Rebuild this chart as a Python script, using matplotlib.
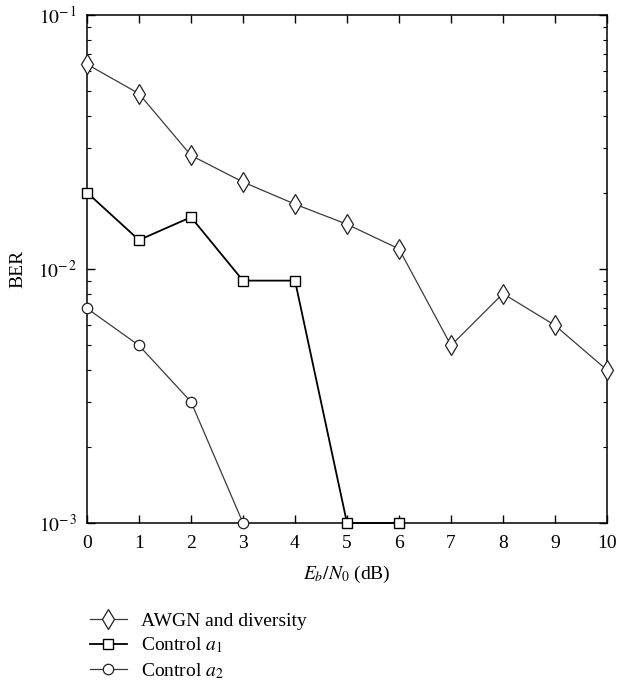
import matplotlib
matplotlib.use("Agg")
import matplotlib.pyplot as plt
from matplotlib.ticker import LogLocator, NullFormatter, FixedFormatter

plt.rcParams['font.family'] = ['Liberation Serif', 'DejaVu Serif']
plt.rcParams['mathtext.fontset'] = 'stix'

# data
snr = [0, 1, 2, 3, 4, 5, 6, 7, 8, 9, 10]
awgn = [0.064, 0.049, 0.028, 0.022, 0.018, 0.015, 0.012, 0.005, 0.008, 0.006, 0.004]
snr_a1 = [0, 1, 2, 3, 4, 5, 6]
ctrl_a1 = [0.020, 0.013, 0.016, 0.009, 0.009, 0.001, 0.001]
snr_a2 = [0, 1, 2, 3]
ctrl_a2 = [0.007, 0.005, 0.003, 0.001]
y_ticks = [1e-3, 1e-2, 1e-1]
y_tick_labels = [r'$10^{-\,3}$', r'$10^{-\,2}$', r'$10^{-\,1}$']

W, H = 617, 687
fig = plt.figure(figsize=(W / 100, H / 100), dpi=100)
# axes box: x 87..607, y 15..523 (pixels)
ax = fig.add_axes([87 / W, 1 - 523 / H, 520 / W, 508 / H])

ax.plot(snr, awgn, color='#3a3a3a', lw=0.9, marker='d', ms=10, mfc='white',
        mec='#222222', mew=0.9, label='AWGN and diversity', clip_on=False, zorder=3)
ax.plot(snr_a1, ctrl_a1, color='black', lw=1.3, marker='s', ms=7.5, mfc='white',
        mec='black', mew=1.0, label='Control $a_1$', clip_on=False, zorder=3)
ax.plot(snr_a2, ctrl_a2, color='#3a3a3a', lw=0.9, marker='o', ms=7.5, mfc='white',
        mec='#222222', mew=0.9, label='Control $a_2$', clip_on=False, zorder=3)

ax.set_yscale('log')
ax.set_xlim(0, 10)
ax.set_ylim(1e-3, 1e-1)
ax.set_xticks(range(0, 11))
ax.set_yticks(y_ticks)
ax.yaxis.set_major_formatter(FixedFormatter(y_tick_labels))
ax.yaxis.set_minor_locator(LogLocator(base=10, subs=range(2, 10), numticks=20))
ax.yaxis.set_minor_formatter(NullFormatter())
ax.tick_params(which='both', direction='in', top=True, right=True, labelsize=14)
ax.tick_params(axis='x', which='major', pad=9)
ax.tick_params(axis='y', which='major', pad=7)
ax.tick_params(which='major', length=6, width=1)
ax.tick_params(which='minor', length=3, width=0.8)
for s in ax.spines.values():
    s.set_linewidth(1.1)

ax.set_xlabel('$E_b/N_0$ (dB)', fontsize=14, labelpad=8)
ax.set_ylabel('BER', fontsize=14, labelpad=8)

ax.legend(loc='upper left', bbox_to_anchor=(90 / W, 1 - 612 / H),
          bbox_transform=fig.transFigure, frameon=False,
          fontsize=14, handlelength=1.9, labelspacing=0.3, handletextpad=0.7,
          borderpad=0, borderaxespad=0)

fig.savefig('out.png', dpi=100)
